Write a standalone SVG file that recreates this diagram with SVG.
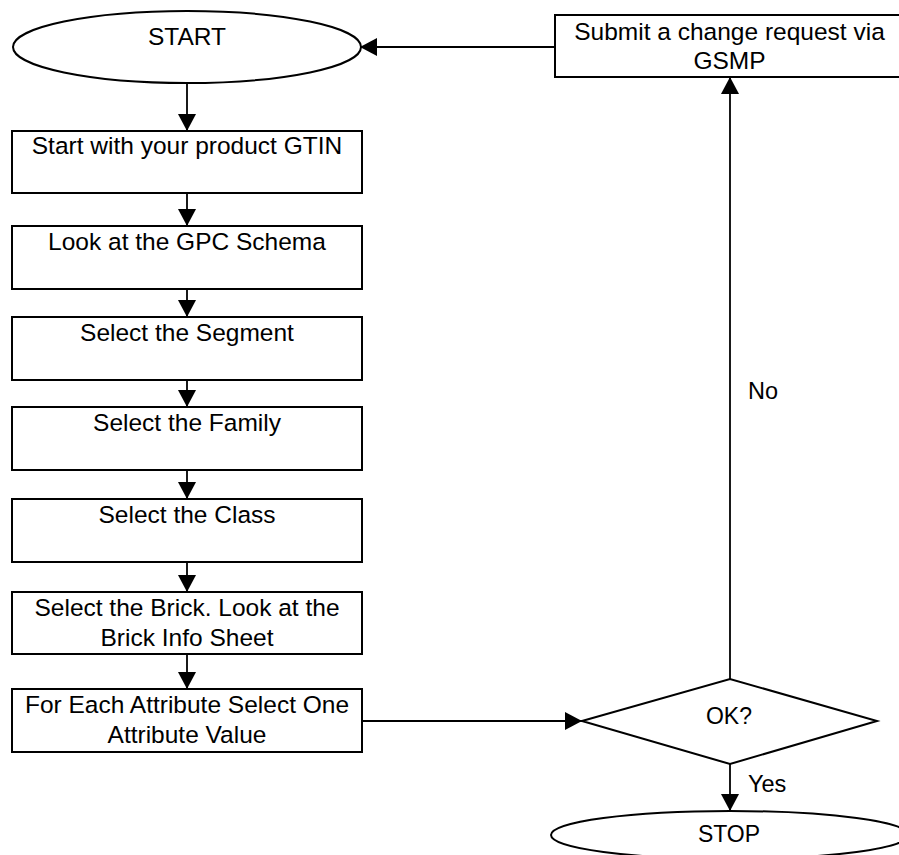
<svg xmlns="http://www.w3.org/2000/svg" width="899" height="855" viewBox="0 0 899 855">
<style>
  .shape { fill: #ffffff; stroke: #000000; stroke-width: 2; }
  .conn { fill: none; stroke: #000000; stroke-width: 1.8; marker-end: url(#arrow); }
  text { font-family: "Liberation Sans", Arial, sans-serif; font-size: 24.5px; fill: #000000; text-anchor: middle; }
  .small { font-size: 23px; }
  .lbl { font-size: 23.5px; text-anchor: start; }
</style>
<defs>
  <marker id="arrow" markerUnits="userSpaceOnUse" markerWidth="17" markerHeight="18" refX="17" refY="9" orient="auto">
    <path d="M0,0 L17,9 L0,18 z" fill="#000000"/>
  </marker>
</defs>
<rect width="899" height="855" fill="#ffffff"/>
<g id="connectors">
  <line class="conn" x1="187" y1="83" x2="187" y2="131"/>
  <line class="conn" x1="187" y1="193" x2="187" y2="226"/>
  <line class="conn" x1="187" y1="289" x2="187" y2="317"/>
  <line class="conn" x1="187" y1="380" x2="187" y2="407"/>
  <line class="conn" x1="187" y1="470" x2="187" y2="499"/>
  <line class="conn" x1="187" y1="562" x2="187" y2="592"/>
  <line class="conn" x1="187" y1="654" x2="187" y2="689"/>
  <line class="conn" x1="362" y1="721" x2="582" y2="721"/>
  <line class="conn" x1="730" y1="679" x2="730" y2="77"/>
  <line class="conn" x1="555" y1="47" x2="360" y2="47"/>
  <line class="conn" x1="730" y1="764" x2="730" y2="811"/>
  <text class="lbl" x="748" y="399">No</text>
  <text class="lbl" x="748" y="792">Yes</text>
</g>
<g id="start">
  <ellipse class="shape" cx="187" cy="47" rx="174" ry="36"/>
  <text x="187" y="45">START</text>
</g>
<g id="gtin">
  <rect class="shape" x="12" y="131" width="350" height="62"/>
  <text x="187" y="154">Start with your product GTIN</text>
</g>
<g id="schema">
  <rect class="shape" x="12" y="226" width="350" height="63"/>
  <text x="187" y="250">Look at the GPC Schema</text>
</g>
<g id="segment">
  <rect class="shape" x="12" y="317" width="350" height="63"/>
  <text x="187" y="341">Select the Segment</text>
</g>
<g id="family">
  <rect class="shape" x="12" y="407" width="350" height="63"/>
  <text x="187" y="431">Select the Family</text>
</g>
<g id="class">
  <rect class="shape" x="12" y="499" width="350" height="63"/>
  <text x="187" y="523">Select the Class</text>
</g>
<g id="brick">
  <rect class="shape" x="12" y="592" width="350" height="62"/>
  <text x="187" y="616">Select the Brick. Look at the</text>
  <text x="187" y="646">Brick Info Sheet</text>
</g>
<g id="attribute">
  <rect class="shape" x="12" y="689" width="350" height="63"/>
  <text x="187" y="713">For Each Attribute Select One</text>
  <text x="187" y="743">Attribute Value</text>
</g>
<g id="ok">
  <polygon class="shape" points="582,721 730,679 877,721 730,764"/>
  <text class="small" x="729" y="724">OK?</text>
</g>
<g id="submit">
  <rect class="shape" x="555" y="15" width="349" height="62"/>
  <text x="729.5" y="40">Submit a change request via</text>
  <text x="729.5" y="69">GSMP</text>
</g>
<g id="stop">
  <ellipse class="shape" cx="730" cy="835" rx="179" ry="24"/>
  <text class="small" x="729" y="842">STOP</text>
</g>
</svg>
